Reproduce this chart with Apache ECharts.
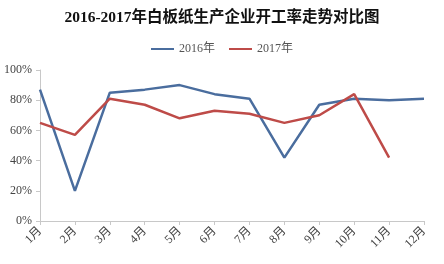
<!DOCTYPE html>
<html><head><meta charset="utf-8">
<script src="https://cdn.jsdelivr.net/npm/echarts@6/dist/echarts.min.js"></script>
<style>html,body{margin:0;padding:0;background:#fff}#c{width:444px;height:264px}</style>
</head><body><div id="c"></div>
<script>
const categories = ['1月','2月','3月','4月','5月','6月','7月','8月','9月','10月','11月','12月'];
const s2016 = [87, 20, 85, 87, 90, 84, 81, 42, 77, 81, 80, 81];
const s2017 = [65, 57, 81, 77, 68, 73, 71, 65, 70, 84, 42, null];
const yTicks = [0, 20, 40, 60, 80, 100];
const FONT = '"Liberation Serif", "Noto Sans CJK SC", serif';
const chart = echarts.init(document.getElementById('c'));
chart.setOption({
  animation: false,
  title: { text: '2016-2017年白板纸生产企业开工率走势对比图', left: 'center', top: 5,
    textStyle: { fontFamily: FONT, fontSize: 15.5, fontWeight: 'bold', color: '#111' } },
  legend: { top: 38, left: 'center', itemWidth: 23, itemHeight: 2, itemGap: 14,
    textStyle: { fontFamily: FONT, fontSize: 12, color: '#555' },
    data: [{name:'2016年', icon:'rect'}, {name:'2017年', icon:'rect'}] },
  grid: { left: 40, right: 20, top: 70, bottom: 43 },
  xAxis: { type: 'category', data: categories, boundaryGap: false,
    axisLine: { lineStyle: { color: '#c8c8c8' } },
    axisTick: { show: true, length: 4, lineStyle: { color: '#c8c8c8' } },
    axisLabel: { rotate: 45, fontFamily: FONT, fontSize: 12, color: '#444', margin: 8, interval: 0 } },
  yAxis: { type: 'value', min: 0, max: 100, interval: 20,
    axisLine: { show: true, lineStyle: { color: '#c8c8c8' } },
    axisTick: { show: true, length: 4, lineStyle: { color: '#c8c8c8' } },
    splitLine: { show: false },
    axisLabel: { formatter: v => yTicks.includes(v) ? v + '%' : '', fontFamily: FONT, fontSize: 12, color: '#444', margin: 8 } },
  series: [
    { name: '2016年', type: 'line', data: s2016, symbol: 'none', lineStyle: { width: 2.5, color: '#4A6D9E' }, itemStyle: { color: '#4A6D9E' } },
    { name: '2017年', type: 'line', data: s2017, symbol: 'none', lineStyle: { width: 2.5, color: '#BE4B48' }, itemStyle: { color: '#BE4B48' } }
  ]
});
</script></body></html>
